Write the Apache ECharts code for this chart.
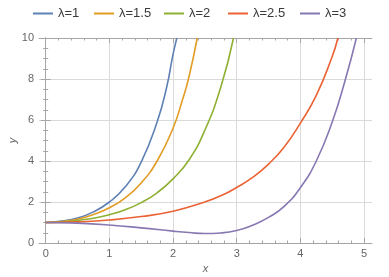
<!DOCTYPE html>
<html><head><meta charset="utf-8">
<script src="https://cdn.jsdelivr.net/npm/echarts@6/dist/echarts.min.js"></script>
<style>html,body{margin:0;padding:0;background:#fff}#c{width:389px;height:277px}</style>
</head><body><div id="c"></div>
<script>
const seriesNames = ['λ=1','λ=1.5','λ=2','λ=2.5','λ=3'];
const colors = ['#5E81B5','#E19C24','#8FB032','#EB6235','#8778B3'];
const x1 = [0,0.25,0.5,0.75,1,1.25,1.5,1.75,1.9,2.0,2.06];
const y1 = [1,1.07,1.22,1.52,2.0,2.74,3.95,5.9,7.6,9.2,10];
const x15 = [0,0.25,0.5,0.75,1,1.25,1.5,1.75,2,2.15,2.25,2.38];
const y15 = [1,1.05,1.16,1.39,1.72,2.2,2.93,4.0,5.6,7.0,8.1,10];
const x2 = [0,0.25,0.5,0.75,1,1.25,1.5,1.75,2,2.25,2.5,2.75,2.95];
const y2 = [1,1.03,1.1,1.21,1.38,1.62,1.97,2.45,3.13,4.05,5.5,7.6,10];
const x25 = [0,0.5,1,1.5,2,2.5,2.75,3,3.25,3.5,3.75,4,4.25,4.5,4.59];
const y25 = [1,1.03,1.12,1.29,1.55,2.0,2.3,2.71,3.2,3.85,4.7,5.85,7.2,9.1,10];
const x3 = [0,0.5,1,1.5,2,2.25,2.5,2.75,3,3.25,3.5,3.75,4,4.25,4.5,4.7,4.88];
const y3 = [1,0.97,0.88,0.74,0.58,0.51,0.46,0.49,0.61,0.87,1.25,1.8,2.7,4.0,5.9,7.9,10];
const xMajor = [0,1,2,3,4,5];
const xMinor = [];
for (let i = 0; i <= 25; i++) { const v = +(i*0.2).toFixed(1); if (v % 1 !== 0) xMinor.push(v); }

const xs = [x1,x15,x2,x25,x3], ys = [y1,y15,y2,y25,y3];
const legendLeft = [33,94,164,228,300];
const frame = '#a6a6a6';
const XMIN = -0.105, XMAX = 5.125;
function xa(pos, vals, len, showLabel, showLine, split) {
  return {type:'value', position:pos, min:XMIN, max:XMAX, scale:true,
    axisLine:{show:showLine, onZero:false, lineStyle:{color:frame,width:1}},
    axisTick:{show:true, inside:true, length:len, customValues:vals, lineStyle:{color:frame}},
    axisLabel:{show:showLabel, customValues:vals, color:'#666', fontSize:11, fontFamily:'Liberation Sans', margin:5},
    splitLine:{show:split, lineStyle:{color:'#dadada',width:1}}};
}
const option = {
  animation:false,
  color: colors,
  legend: seriesNames.map((n,i)=>({top:7, left:legendLeft[i], itemWidth:20, itemHeight:2, padding:0,
    icon:'rect', textStyle:{fontSize:13, color:'#3a3a3a', fontFamily:'Liberation Sans'},
    data:[n]})),
  grid:{left:39, right:17, top:38, bottom:34, outerBoundsMode:'none', containLabel:false},
  xAxis:[
    Object.assign(xa('bottom', xMajor, 5, true, true, true), {name:'x', nameLocation:'middle', nameGap:20, nameMoveOverlap:false, nameTextStyle:{fontStyle:'italic', color:'#666', fontSize:11, verticalAlign:'top'}}),
    xa('bottom', xMinor, 2.5, false, false, false),
    xa('top', xMajor, 5, false, true, false),
    xa('top', xMinor, 2.5, false, false, false)
  ],
  yAxis:[
    {type:'value', position:'left', min:0, max:10, interval:2,
      name:'y', nameLocation:'middle', nameGap:21, nameRotate:90, nameMoveOverlap:false, nameTextStyle:{fontStyle:'italic', color:'#666', fontSize:11},
      axisLine:{show:true, lineStyle:{color:frame}},
      axisTick:{inside:true, length:5, lineStyle:{color:frame}},
      minorTick:{show:true, splitNumber:4, length:2.5, lineStyle:{color:frame}},
      axisLabel:{color:'#666', fontSize:11, fontFamily:'Liberation Sans', margin:5},
      splitLine:{show:true, lineStyle:{color:'#dadada'}}},
    {type:'value', position:'right', min:0, max:10, interval:2,
      axisLine:{show:true, lineStyle:{color:frame}},
      axisTick:{inside:true, length:5, lineStyle:{color:frame}},
      minorTick:{show:true, splitNumber:4, length:2.5, lineStyle:{color:frame}},
      axisLabel:{show:false}, splitLine:{show:false}}
  ],
  series: seriesNames.map((n,i)=>({
    name:n, type:'line', smooth:0.5, showSymbol:false, clip:true,
    lineStyle:{width:1.6, color:colors[i]}, itemStyle:{color:colors[i]},
    data: xs[i].map((x,j)=>[x, ys[i][j]])
  }))
};
const chart = echarts.init(document.getElementById('c'), null, {renderer:'canvas'});
chart.setOption(option);
</script></body></html>
